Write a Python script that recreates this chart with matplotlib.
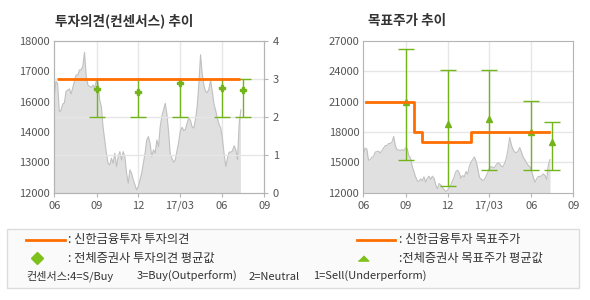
import matplotlib
matplotlib.use("Agg")
import matplotlib.pyplot as plt
from matplotlib.lines import Line2D
from matplotlib.patches import Rectangle
import pandas as pd

plt.rcParams['font.family'] = ['Noto Sans CJK KR', 'DejaVu Sans']

# daily close, Jun 2016 - Jul 2017
price = [15800, 16400, 16300, 15200, 15250, 15500, 15550, 16000, 16050, 16100,
         15900, 16150, 16400, 16650, 16650, 16850, 16850, 17000, 17550, 16600,
         16250, 16200, 16150, 16250, 16150, 16400, 16350, 15670, 15400, 14610,
         14080, 13560, 13160, 13095, 13360, 13160, 13560, 13030, 13420, 13620,
         13290, 13620, 13420, 12765, 12370, 12900, 12765, 12500, 12300, 12105,
         12240, 12500, 12765, 13160, 13560, 14080, 14215, 13950, 13420, 13690,
         13560, 14080, 13820, 14610, 15010, 15270, 15530, 15100, 14400, 13500,
         13350, 13200, 13300, 13650, 14000, 14450, 14580, 14450, 14500, 14750,
         14950, 14850, 14600, 14550, 14900, 15400, 16300, 17450, 16700, 16250,
         16000, 15950, 16100, 16450, 16000, 15500, 15250, 14950, 14700, 14550,
         14150, 13550, 13030, 13350, 13600, 13600, 13650, 13850, 13700, 13300,
         14745, 15270]
price_dates = pd.date_range('2016-06-01', '2017-07-12', periods=len(price))

# Shinhan opinion (3 = Buy)
opinion_dates = pd.to_datetime(['2016-06-06', '2017-07-10'])
opinion = [3, 3]

# consensus opinion: mean, low, high
cons_dates = pd.to_datetime(['2016-09-01', '2016-12-01', '2017-03-01', '2017-06-01', '2017-07-17'])
cons_mean = [2.73, 2.65, 2.88, 2.75, 2.71]
cons_low = [2, 2, 2, 2, 2]
cons_high = [3, 3, 3, 3, 3]

# Shinhan target price
target_dates = pd.to_datetime(['2016-06-06', '2016-09-20', '2016-10-06', '2017-01-22', '2017-07-10'])
target = [21000, 18000, 17000, 18000, 18000]

# consensus target price: mean, low, high
tp_mean = [21000, 18800, 19300, 17950, 17000]
tp_low = [15200, 12700, 14200, 14200, 14200]
tp_high = [26200, 24100, 24100, 21100, 19000]

xtick_dates = pd.to_datetime(['2016-06-01', '2016-09-01', '2016-12-01', '2017-03-01', '2017-06-01', '2017-09-01'])
xtick_labels = ['06', '09', '12', '17/03', '06', '09']

orange = '#ff6e00'
green = '#72b41a'
grey_fill = '#e0e0e0'
grey_line = '#c0c0c0'
spine = '#b4b4b4'
txt = '#555555'


def style_axes(ax):
    for s in ax.spines.values():
        s.set_color(spine)
    ax.set_xlim(xtick_dates[0], xtick_dates[-1])
    ax.set_xticks(xtick_dates)
    ax.set_xticklabels(xtick_labels)
    ax.tick_params(colors=spine, labelcolor=txt, labelsize=8, length=3, pad=3)
    for d in xtick_dates[1:-1]:
        ax.axvline(d, color='#e6e6e6', lw=1, zorder=0)


def draw_price(ax):
    ax.fill_between(price_dates, 0, price, color=grey_fill, lw=0, zorder=1)
    ax.plot(price_dates, price, color=grey_line, lw=0.8, zorder=1)


fig = plt.figure(figsize=(5.9, 3.0), dpi=100)

# ---- left: opinion
ax1 = fig.add_axes([0.092, 0.358, 0.356, 0.506])
style_axes(ax1)
draw_price(ax1)
ax1.set_ylim(12000, 18000)
ax1.set_yticks([12000, 13200, 14400, 15600, 16800, 18000])
ax1.set_yticklabels(['12000', '13000', '14000', '16000', '17000', '18000'])
ax1.tick_params(axis='y', length=0)

ax1b = ax1.twinx()
for s in ax1b.spines.values():
    s.set_color(spine)
ax1b.set_ylim(0, 4)
ax1b.set_yticks([0, 1, 2, 3, 4])
ax1b.tick_params(colors=spine, labelcolor=txt, labelsize=8, length=3, pad=3)
for v in [1, 2, 3]:
    ax1b.axhline(v, color='#e6e6e6', lw=1, zorder=0)
ax1b.plot(opinion_dates, opinion, color=orange, lw=2, zorder=4, solid_capstyle='butt')
ax1b.errorbar(cons_dates, cons_mean,
              yerr=[[m - l for m, l in zip(cons_mean, cons_low)],
                    [h - m for m, h in zip(cons_mean, cons_high)]],
              fmt='P', ms=4, color=green, ecolor=green, elinewidth=1,
              capsize=6, capthick=1, zorder=3)
ax1b.set_xlim(xtick_dates[0], xtick_dates[-1])
ax1b.patch.set_visible(False)

# ---- right: target price
ax2 = fig.add_axes([0.616, 0.358, 0.356, 0.506])
style_axes(ax2)
draw_price(ax2)
ax2.set_ylim(12000, 27000)
ax2.set_yticks([12000, 15000, 18000, 21000, 24000, 27000])
ax2.tick_params(axis='y', length=0)
for v in [15000, 18000, 21000, 24000]:
    ax2.axhline(v, color='#e6e6e6', lw=1, zorder=0)
ax2.errorbar(cons_dates, tp_mean,
             yerr=[[m - l for m, l in zip(tp_mean, tp_low)],
                   [h - m for m, h in zip(tp_mean, tp_high)]],
             fmt='^', ms=4, color=green, ecolor=green, elinewidth=1,
             capsize=6, capthick=1, zorder=3)
ax2.plot(target_dates, target, color=orange, lw=2, drawstyle='steps-post', zorder=4)

fig.text(0.093, 0.931, '투자의견(컨센서스) 추이', fontsize=9.8, fontweight='bold',
         color='#333333', va='center')
fig.text(0.623, 0.931, '목표주가 추이', fontsize=9.8, fontweight='bold',
         color='#333333', va='center')

# ---- legend box
fig.add_artist(Rectangle((0.0124, 0.04), 0.9695, 0.197, transform=fig.transFigure,
                         facecolor='#fafafa', edgecolor='#dcdcdc', lw=1))
r1, r2, r3 = 0.201, 0.139, 0.0777
lg = dict(fontsize=8.8, color='#333333', va='center')
fig.add_artist(Line2D([0.044, 0.110], [r1, r1], transform=fig.transFigure, color=orange, lw=2))
fig.text(0.1153, r1, ': 신한금융투자 투자의견', **lg)
fig.add_artist(Line2D([0.0632], [r2], transform=fig.transFigure, marker='D', ms=6,
                      color='#7dc11a', lw=0))
fig.text(0.1153, r2, ': 전체증권사 투자의견 평균값', **lg)
fig.add_artist(Line2D([0.6046, 0.6695], [r1, r1], transform=fig.transFigure, color=orange, lw=2))
fig.text(0.6768, r1, ': 신한금융투자 목표주가', **lg)
fig.add_artist(Line2D([0.6147], [r2], transform=fig.transFigure,
                      marker=[(-1, -0.5), (1, -0.5), (0, 0.5)], ms=7.5,
                      color='#7dc11a', lw=0))
fig.text(0.6768, r2, ':전체증권사 목표주가 평균값', **lg)
rating_x = [0.0453, 0.2317, 0.422, 0.5305]
rating_txt = ['컨센서스:4=S/Buy', '3=Buy(Outperform)', '2=Neutral', '1=Sell(Underperform)']
for x, t in zip(rating_x, rating_txt):
    fig.text(x, r3, t, fontsize=8, color='#333333', va='center')

fig.savefig('out.png', dpi=100)
